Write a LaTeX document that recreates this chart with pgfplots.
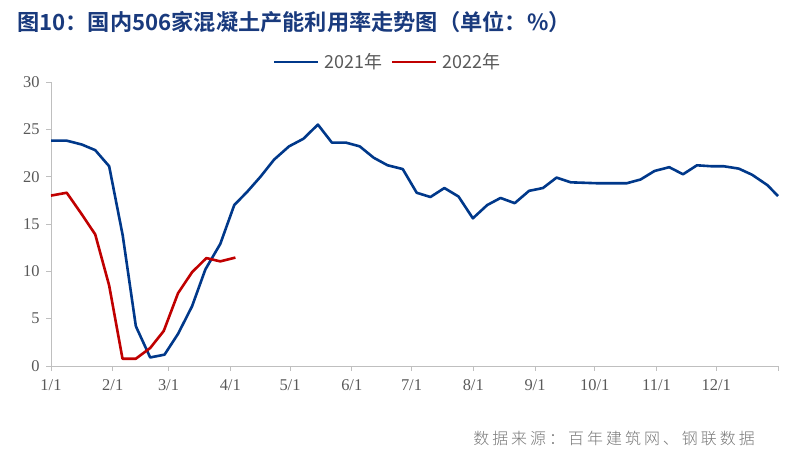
\documentclass[border=0pt]{standalone}
\usepackage{pgfplots}
\pgfplotsset{compat=1.18}
\usepackage{fontspec}
\setmainfont{Liberation Serif}
\newfontfamily\cjk{Noto Sans CJK SC}
\newfontfamily\cjksrc{Noto Sans CJK SC Light}[LetterSpace=19]
\newfontfamily\cjktitle{Noto Sans CJK SC Bold}
\definecolor{titleblue}{RGB}{25,58,125}
\definecolor{line21}{RGB}{0,56,138}
\definecolor{line22}{RGB}{192,0,0}
\definecolor{axgray}{RGB}{191,191,191}
\definecolor{txtgray}{RGB}{89,89,89}
\definecolor{srcgray}{RGB}{120,120,120}
\begin{document}
\begin{tikzpicture}[x=1bp,y=1bp]
\path[use as bounding box] (0,0) rectangle (799,457);
\node[anchor=west,inner sep=0pt,text=titleblue] at (17,435) {\fontsize{22.3}{22.3}\selectfont\cjktitle 图10：国内506家混凝土产能利用率走势图（单位：\%）};
\node[anchor=east,inner sep=0pt,text=srcgray] at (755,19) {\fontsize{16}{16}\selectfont\cjksrc 数据来源：百年建筑网、钢联数据};
\begin{axis}[
  at={(51bp,91bp)}, anchor=south west,
  scale only axis, width=727bp, height=284bp,
  xmin=0, xmax=365, ymin=0, ymax=30,
  axis x line*=bottom, axis y line*=left,
  axis line style={draw=axgray, line width=0.8bp, -},
  tick style={draw=axgray, line width=0.8bp},
  tick align=outside, major tick length=5bp,
  xtick={0,31,59,90,120,151,181,212,243,273,304,334,365},
  xticklabels={1/1,2/1,3/1,4/1,5/1,6/1,7/1,8/1,9/1,10/1,11/1,12/1,{}},
  ytick={0,5,10,15,20,25,30},
  /pgf/number format/assume math mode=true,
  tick label style={font=\fontsize{16.5}{16.5}\selectfont, text=txtgray},
  xticklabel style={yshift=-5bp},
  yticklabel style={xshift=-3bp},
  legend columns=2,
  legend style={draw=none, fill=none, at={(0.463,1.07)}, anchor=center,
    font=\fontsize{18}{18}\selectfont\cjk, text=txtgray, inner sep=0pt,
    /tikz/every even column/.append style={column sep=7bp},
    /tikz/every odd column/.append style={column sep=3bp}},
  legend image code/.code={\draw[#1] (0bp,0bp) -- (44bp,0bp);},
  clip=false,
]
\addplot[line21, line width=2.6bp, line join=round] coordinates {
(0,23.8)(7.9,23.8)(15.4,23.4)(22.2,22.8)(29.2,21.1)(36,13.8)(42.6,4.2)(49.8,0.9)(57,1.2)(63.8,3.4)(70.8,6.3)(77.5,10.2)(85,12.9)(92,17.0)(98.5,18.4)(105.2,20.0)(112,21.8)(119.5,23.2)(126.7,24.0)(134,25.5)(141,23.6)(148,23.6)(155,23.2)(162,22.0)(169,21.2)(176.6,20.8)(183.6,18.3)(190.5,17.85)(197.5,18.8)(204.6,17.9)(211.8,15.6)(219,17.0)(225.7,17.75)(232.8,17.2)(240,18.5)(247,18.8)(253.8,19.9)(261,19.4)(268,19.35)(274.7,19.3)(281.8,19.3)(289,19.3)(296,19.7)(303,20.6)(310.4,21.0)(317.3,20.25)(324.3,21.2)(331.5,21.1)(337.7,21.1)(345.3,20.85)(352,20.2)(359.7,19.1)(365,17.95)
};
\addlegendentry{2021年}
\addplot[line22, line width=2.6bp, line join=round] coordinates {
(0,18.0)(7.9,18.3)(15.2,16.1)(22.2,13.9)(29.2,8.5)(35.9,0.77)(42.6,0.77)(49.8,1.9)(56.6,3.7)(63.8,7.7)(70.8,9.9)(78,11.4)(85,11.05)(92.6,11.45)
};
\addlegendentry{2022年}
\end{axis}
\end{tikzpicture}
\end{document}
